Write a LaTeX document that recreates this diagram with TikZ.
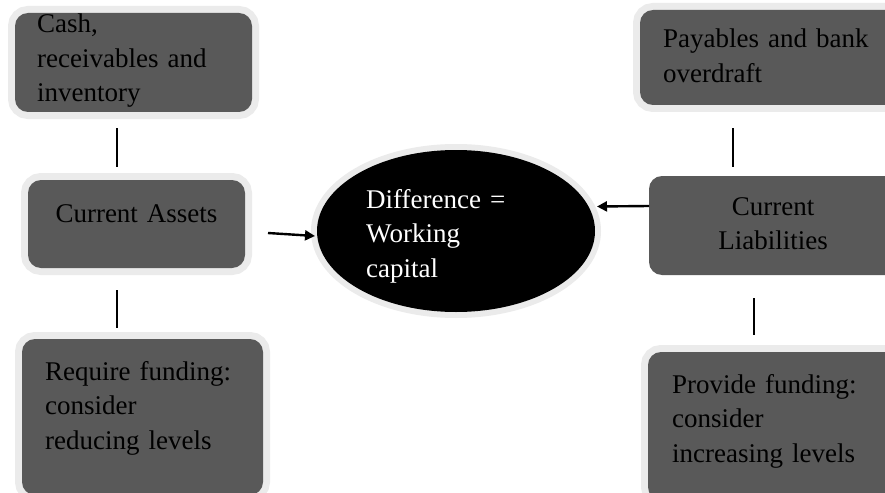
\documentclass[tikz,border=0pt]{standalone}
\usepackage{fontspec}
\setmainfont{Liberation Serif}
\usetikzlibrary{arrows.meta,shapes.geometric,calc}
\definecolor{boxgray}{RGB}{89,89,89}
\definecolor{halogray}{RGB}{235,235,235}
\begin{document}
\begin{tikzpicture}[x=1pt,y=-1pt,
  panel/.style={rectangle,rounded corners=13pt,fill=boxgray,inner sep=0pt,outer sep=0pt},
  halo/.style={preaction={draw=halogray,line width=14pt}},
  oval/.style={ellipse,fill=black,inner sep=0pt,outer sep=0pt,
    preaction={draw=halogray,line width=12pt}},
  txt/.style={inner sep=0pt,anchor=base west,text width=260pt,align=left,
    font=\fontsize{27pt}{34.5pt}\selectfont},
  ctxt/.style={inner sep=0pt,anchor=base,text width=230pt,align=center,
    font=\fontsize{27pt}{34.5pt}\selectfont},
  link/.style={draw=black,line width=2pt},
  arr/.style={draw=black,line width=2.4pt,-{Triangle[length=10pt,width=10pt]}}
]
\useasboundingbox (0,0) rectangle (885,492);
\clip (0,0) rectangle (885,492);
\fill[white] (0,0) rectangle (885,492);

% left column: assets
\node[panel,halo,minimum width=237pt,minimum height=99pt] (cash) at (133.5,62.5) {};
\node[panel,halo,minimum width=217pt,minimum height=88pt] (assets) at (136.5,224) {};
\node[panel,halo,minimum width=241pt,minimum height=156pt] (require) at (142.5,417) {};

% right column: liabilities
\node[panel,halo,minimum width=270pt,minimum height=95pt] (payables) at (775,57.5) {};
\node[panel,minimum width=260pt,minimum height=99pt] (liab) at (779,225.5) {};
\node[panel,halo,minimum width=262pt,minimum height=148pt] (provide) at (779,426) {};

% centre: working capital
\node[oval,minimum width=278pt,minimum height=162pt] (wc) at (456,231) {};

% labels
\node[txt] (tcash) at (37,33) {Cash,\\receivables and\\inventory};
\node[ctxt] (tassets) at (136.5,222) {Current Assets};
\node[txt] (treq) at (45,380) {Require funding:\\consider\\reducing levels};
\node[txt] (tpay) at (663,48) {Payables and bank\\overdraft};
\node[ctxt] (tliab) at (773,215) {Current\\Liabilities};
\node[txt] (tprov) at (672,393) {Provide funding:\\consider\\increasing levels};
\node[txt,text=white] (twc) at (366,208) {Difference =\\Working\\capital};

% connectors
\draw[link,shorten <=16pt,shorten >=13pt] (cash.south -| 117,0) -- (assets.north -| 117,0);
\draw[link,shorten <=22pt,shorten >=11pt] (assets.south -| 117,0) -- (require.north -| 117,0);
\draw[link,shorten <=23pt,shorten >=9pt] (payables.south -| 733,0) -- (liab.north -| 733,0);
\draw[link,shorten <=23pt,shorten >=17pt] (liab.south -| 754,0) -- (provide.north -| 754,0);

\draw[arr] ($(assets.east)+(23,9)$) -- ($(wc.west)+(-2,5)$);
\draw[arr] ($(liab.west)+(0,-19.5)$) -- (597,206.5);
\end{tikzpicture}
\end{document}
